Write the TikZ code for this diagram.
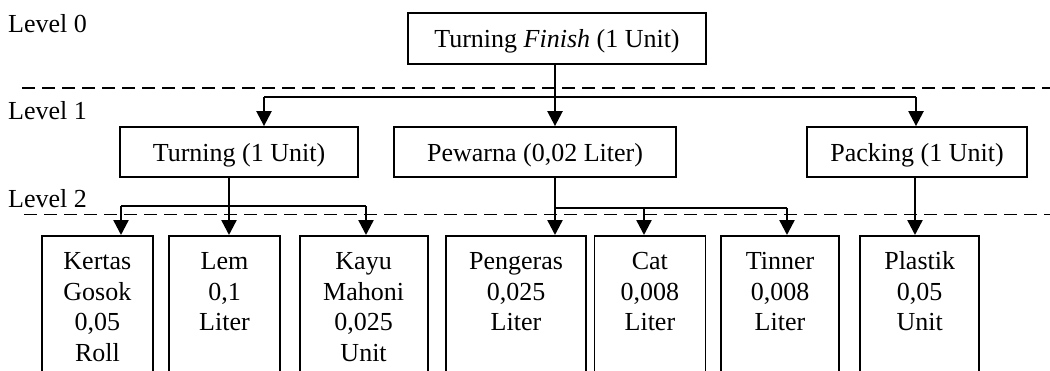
\documentclass[tikz,border=0pt]{standalone}
\usepackage{fontspec}
\setmainfont{Liberation Serif}
\usetikzlibrary{arrows.meta}
\newcommand\diafont{\fontsize{26}{30.5}\selectfont}
\tikzset{
  box/.style={draw, line width=1.8pt, inner sep=0pt, font=\diafont,
    text height=18pt, text depth=0pt},
  leaf/.style={draw, line width=1.8pt, inner sep=0pt, font=\diafont,
    anchor=north, text height=34pt, text depth=200pt},
  lvl/.style={anchor=base west, inner sep=0pt, font=\diafont},
  conn/.style={line width=2.4pt},
  arr/.style={line width=2.4pt, -{Triangle[width=15pt,length=15pt]}},
  sep/.style={line width=1.9pt, dash pattern=on 13pt off 7pt}
}
\begin{document}
\begin{tikzpicture}[x=1pt,y=-1pt]
\useasboundingbox (0,0) rectangle (1050,370);
% level labels
\node[lvl] (lv0) at (8,32) {Level 0};
\node[lvl] (lv1) at (8,119) {Level 1};
\node[lvl] (lv2) at (8,207) {Level 2};
% separators
\coordinate (s1a) at (22,88);  \coordinate (s1b) at (1050,88);
\coordinate (s2a) at (24,214.5); \coordinate (s2b) at (1050,214.5);
\draw[sep] (s1a) -- (s1b);
\draw[sep] (s2a) -- (s2b);
% level 0
\node[box, minimum width=298pt, minimum height=51pt] (top) at (557,38.5) {Turning \textit{Finish} (1 Unit)};
% level 1
\node[box, minimum width=238pt, minimum height=50pt] (turning) at (239,152) {Turning (1 Unit)};
\node[box, minimum width=282pt, minimum height=50pt] (pewarna) at (535,152) {Pewarna (0,02 Liter)};
\node[box, minimum width=220pt, minimum height=50pt] (packing) at (917,152) {Packing (1 Unit)};
% level 2
\node[leaf, minimum width=111pt] (kertas) at (97.4,235) {\begin{tabular}[t]{@{}c@{}}Kertas\\Gosok\\0,05\\Roll\end{tabular}};
\node[leaf, minimum width=111pt] (lem) at (224.5,235) {\begin{tabular}[t]{@{}c@{}}Lem\\0,1\\Liter\end{tabular}};
\node[leaf, minimum width=128pt] (kayu) at (363.6,235) {\begin{tabular}[t]{@{}c@{}}Kayu\\Mahoni\\0,025\\Unit\end{tabular}};
\node[leaf, minimum width=140pt] (pengeras) at (516,235) {\begin{tabular}[t]{@{}c@{}}Pengeras\\0,025\\Liter\end{tabular}};
\node[leaf, minimum width=111pt] (cat) at (649.9,235) {\begin{tabular}[t]{@{}c@{}}Cat\\0,008\\Liter\end{tabular}};
\node[leaf, minimum width=118pt] (tinner) at (780,235) {\begin{tabular}[t]{@{}c@{}}Tinner\\0,008\\Liter\end{tabular}};
\node[leaf, minimum width=119pt] (plastik) at (919.7,235) {\begin{tabular}[t]{@{}c@{}}Plastik\\0,05\\Unit\end{tabular}};
% connectors level 0 -> 1
\coordinate (j0) at (555,97);
\coordinate (j0l) at (264,97);
\coordinate (j0r) at (916,97);
\draw[arr] (top.south -| j0) -- (pewarna.north -| j0);
\draw[conn] (j0l) -- (j0r);
\draw[arr] (j0l) -- (turning.north -| j0l);
\draw[arr] (j0r) -- (packing.north -| j0r);
% connectors turning -> leaves
\coordinate (t0) at (229,206);
\coordinate (tl) at (121,206);
\coordinate (tr) at (366,206);
\draw[arr] (turning.south -| t0) -- (lem.north -| t0);
\draw[conn] (tl) -- (tr);
\draw[arr] (tl) -- (kertas.north -| tl);
\draw[arr] (tr) -- (kayu.north -| tr);
% connectors pewarna -> leaves
\coordinate (p0) at (555,208);
\coordinate (pm) at (644,208);
\coordinate (pr) at (787,208);
\draw[arr] (pewarna.south -| p0) -- (pengeras.north -| p0);
\draw[conn] (p0) -- (pr);
\draw[arr] (pm) -- (cat.north -| pm);
\draw[arr] (pr) -- (tinner.north -| pr);
% connector packing -> plastik
\coordinate (k0) at (915,180);
\draw[arr] (packing.south -| k0) -- (plastik.north -| k0);
\end{tikzpicture}
\end{document}
